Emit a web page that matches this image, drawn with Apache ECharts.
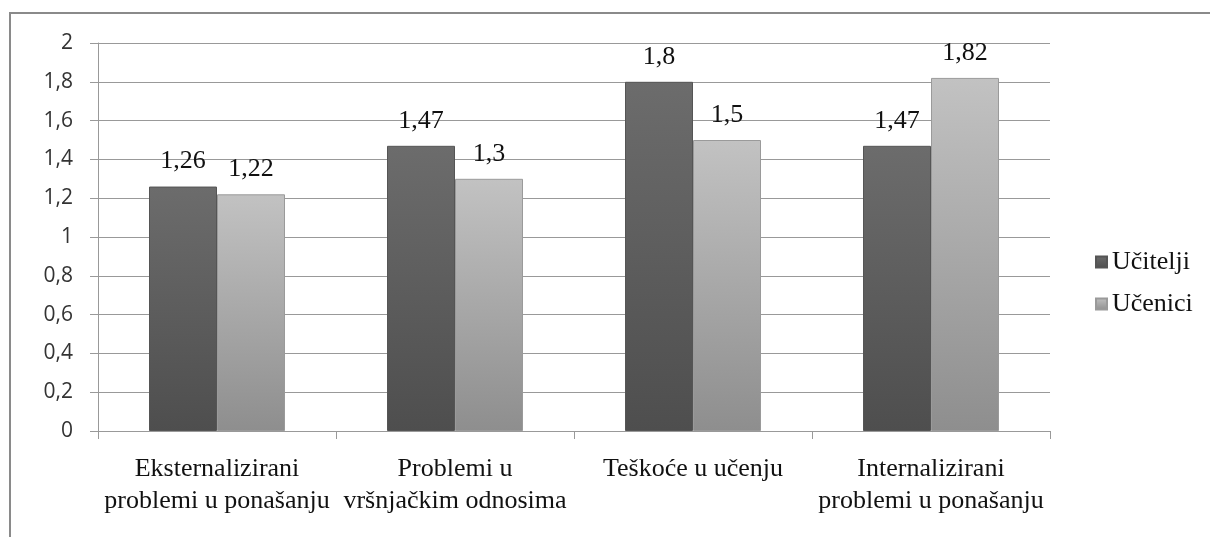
<!DOCTYPE html>
<html>
<head>
<meta charset="utf-8">
<script src="https://cdn.jsdelivr.net/npm/echarts@6/dist/echarts.min.js"></script>
<style>
  html, body { margin: 0; padding: 0; background: #fff; }
  #echart { width: 1210px; height: 537px; }
</style>
</head>
<body>
<div id="echart"></div>
<script>
// podaci
var categories = [
  "Eksternalizirani\nproblemi u ponašanju",
  "Problemi u\nvršnjačkim odnosima",
  "Teškoće u učenju",
  "Internalizirani\nproblemi u ponašanju"
];
var ucitelji = [1.26, 1.47, 1.8, 1.47];
var ucenici = [1.22, 1.3, 1.5, 1.82];

function comma(v) {
  return String(v).replace(".", ",");
}

var serif = "Liberation Serif";

var myChart = echarts.init(document.getElementById("echart"));
var option = {
  animation: false,
  backgroundColor: "#fff",
  graphic: [
    {
      type: "rect",
      shape: { x: 10, y: 13, width: 1300, height: 700 },
      style: { fill: "none", stroke: "#8a8a8a", lineWidth: 2 },
      z: -1
    }
  ],
  grid: { left: 98, right: 160, top: 43, bottom: 106 },
  legend: {
    orient: "vertical",
    left: 1090,
    top: 244,
    itemWidth: 11,
    itemHeight: 11,
    itemGap: 16,
    itemTextGap: 9,
    icon: "rect",
    textStyle: { fontFamily: serif, fontSize: 26, color: "#111" },
    data: ["Učitelji", "Učenici"]
  },
  xAxis: {
    type: "category",
    data: categories,
    axisLine: { lineStyle: { color: "#999" } },
    axisTick: { show: true, length: 8, lineStyle: { color: "#999" } },
    axisLabel: {
      interval: 0,
      margin: 22,
      fontFamily: serif,
      fontSize: 26,
      lineHeight: 32,
      color: "#111"
    }
  },
  yAxis: {
    type: "value",
    min: 0,
    max: 2,
    interval: 0.2,
    axisLine: { show: true, lineStyle: { color: "#999" } },
    axisTick: { show: true, length: 8, lineStyle: { color: "#999" } },
    splitLine: { lineStyle: { color: "#999" } },
    axisLabel: {
      margin: 25,
      fontFamily: "Open Sans",
      fontSize: 21,
      color: "#333",
      formatter: function (v) { return comma(+v.toFixed(1)); }
    }
  },
  series: [
    {
      name: "Učitelji",
      type: "bar",
      data: ucitelji,
      barWidth: 68,
      barGap: "0%",
      itemStyle: {
        color: new echarts.graphic.LinearGradient(0, 0, 0, 1, [
          { offset: 0, color: "#6c6c6c" },
          { offset: 1, color: "#4e4e4e" }
        ]),
        borderColor: "#555",
        borderWidth: 1
      },
      label: {
        show: true,
        position: "top",
        distance: 12,
        fontFamily: serif,
        fontSize: 26,
        color: "#111",
        formatter: function (p) { return comma(p.value); }
      }
    },
    {
      name: "Učenici",
      type: "bar",
      data: ucenici,
      barWidth: 68,
      itemStyle: {
        color: new echarts.graphic.LinearGradient(0, 0, 0, 1, [
          { offset: 0, color: "#c2c2c2" },
          { offset: 1, color: "#8e8e8e" }
        ]),
        borderColor: "#9a9a9a",
        borderWidth: 1
      },
      label: {
        show: true,
        position: "top",
        distance: 12,
        fontFamily: serif,
        fontSize: 26,
        color: "#111",
        formatter: function (p) { return comma(p.value); }
      }
    }
  ]
};
myChart.setOption(option);
</script>
</body>
</html>
